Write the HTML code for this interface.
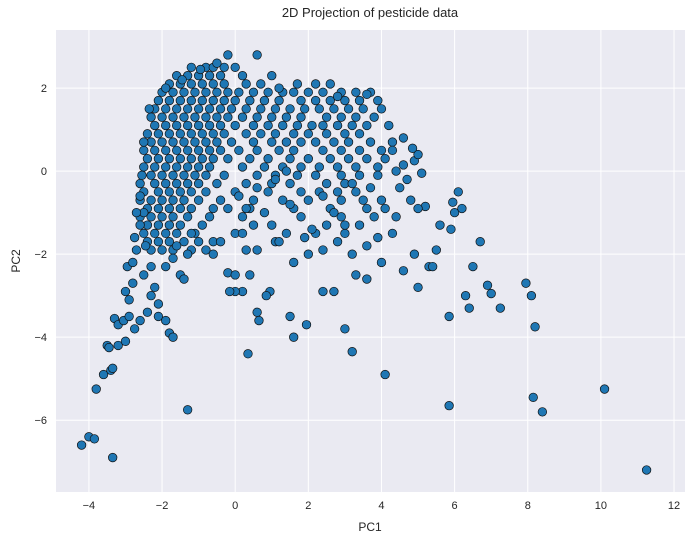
<!DOCTYPE html>
<html><head><meta charset="utf-8"><style>
body{margin:0;background:#fff;}
svg{display:block;font-family:"Liberation Sans",sans-serif;}
</style></head><body>
<svg id="chart" width="692" height="545">
<rect x="56" y="30" width="629" height="462" fill="#eaeaf2"/>
<g id="grid"></g>
<g id="ticks"></g>
<g id="pts"></g>
<text x="370" y="17" text-anchor="middle" font-size="13" fill="#262626">2D Projection of pesticide data</text>
<text x="370" y="531" text-anchor="middle" font-size="12" fill="#262626">PC1</text>
<text x="20" y="261" text-anchor="middle" font-size="12" fill="#262626" transform="rotate(-90 20 261)">PC2</text>
</svg>
<script>
const xTicks=[-4,-2,0,2,4,6,8,10,12];
const yTicks=[-6,-4,-2,0,2];
const xDomain=[-4.9,12.3];
const yDomain=[-7.73,3.4];
const rows=[
[2.8,[-0.2,0.6]],
[2.5,[-1.2,-0.8,-0.6,-0.3,0.0]],
[2.3,[-1.6,-1.3,-1.0,-0.7,-0.4,0.2,1.0]],
[2.1,[-1.8,-1.5,-1.2,-0.9,-0.6,-0.3,0.3,0.7,1.7,2.2,2.6]],
[1.9,[-2.0,-1.7,-1.4,-1.1,-0.8,-0.5,-0.2,0.1,0.5,0.9,1.3,1.6,2.0,2.4,2.9,3.3,3.7]],
[1.7,[-2.1,-1.8,-1.5,-1.2,-0.9,-0.6,-0.3,0.0,0.4,0.8,1.2,1.8,2.2,2.6,3.0,3.4,3.9]],
[1.5,[-2.2,-1.9,-1.6,-1.3,-1.0,-0.7,-0.4,-0.1,0.3,0.7,1.1,1.5,1.9,2.3,2.7,3.1,3.5,4.0]],
[1.3,[-2.3,-2.0,-1.7,-1.4,-1.1,-0.8,-0.5,-0.2,0.2,0.6,1.0,1.4,1.8,2.5,2.9,3.3,3.8]],
[1.1,[-2.2,-1.9,-1.6,-1.3,-1.0,-0.7,-0.4,0.0,0.5,0.9,1.3,1.7,2.1,2.4,2.8,3.2,3.6,4.2]],
[0.9,[-2.4,-2.1,-1.8,-1.5,-1.2,-0.9,-0.6,-0.3,0.3,0.7,1.1,1.6,2.0,2.5,3.0,3.4]],
[0.7,[-2.3,-2.0,-1.7,-1.4,-1.1,-0.8,-0.5,-0.1,0.5,1.0,1.4,1.8,2.2,2.7,3.1,3.7,4.3]],
[0.5,[-2.5,-2.2,-1.9,-1.6,-1.3,-1.0,-0.7,-0.4,0.1,0.6,1.2,1.6,2.4,2.9,3.4,4.0]],
[0.3,[-2.4,-2.1,-1.8,-1.5,-1.2,-0.9,-0.6,-0.2,0.4,0.9,1.5,2.0,2.6,3.1,3.6,4.1]],
[0.1,[-2.5,-2.2,-1.9,-1.6,-1.3,-1.0,-0.7,0.2,0.8,1.3,1.8,2.3,2.8,3.3,3.9]],
[-0.1,[-2.3,-2.0,-1.7,-1.4,-1.1,-0.8,-0.3,0.6,1.1,1.7,2.2,2.9,3.4]],
[-0.3,[-2.6,-2.2,-1.9,-1.6,-1.3,-1.0,-0.5,0.3,1.0,1.5,2.5,3.0]],
[-0.5,[-2.5,-2.1,-1.8,-1.5,-1.2,-0.8,0.0,0.9,1.8,2.3,3.3]],
[-0.7,[-2.6,-2.3,-2.0,-1.7,-1.4,-1.0,-0.4,0.5,1.3,2.0,2.9,4.0]],
[-0.9,[-2.4,-2.1,-1.8,-1.5,-1.2,-0.6,0.4,1.6,2.6,3.6]],
[-1.1,[-2.6,-2.3,-2.0,-1.7,-1.3,-0.7,0.2,1.8,2.9,4.4]],
[-1.3,[-2.4,-2.1,-1.8,-1.5,-0.9,0.5,2.5,3.4]],
[-1.5,[-2.5,-2.2,-1.9,-1.6,-1.1,0.0,1.4,2.2,3.0]],
[-1.7,[-2.4,-2.1,-1.8,-1.4,-0.6,1.1,2.8]],
[-1.9,[-2.3,-2.0,-1.7,-1.2,0.3,2.4]]
];
const extraPoints=[
[-4.2,-6.6],[-4.0,-6.4],[-3.85,-6.45],[-3.35,-6.9],[-3.8,-5.25],[-3.6,-4.9],[-3.4,-4.8],[-3.35,-4.75],[-3.5,-4.2],[-3.45,-4.25],[-3.2,-4.2],[-3.0,-4.1],[-3.3,-3.55],[-3.2,-3.7],[-3.05,-3.6],[-2.9,-3.5],[-2.75,-3.8],[-2.6,-3.6],[-3.0,-2.9],[-2.9,-3.1],[-2.8,-2.7],[-2.95,-2.3],[-2.8,-2.2],[-2.7,-1.9],[-2.75,-1.6],[-2.6,-1.3],[-2.5,-1.0],[-2.7,-1.0],[-2.6,-0.6],[-2.45,-1.8],[-2.3,-2.3],[-2.5,-2.5],[-2.3,-3.0],[-2.2,-2.8],[-2.1,-3.2],[-2.4,-3.4],[-2.1,-3.5],[-1.9,-3.6],[-1.8,-3.9],[-1.7,-4.0],[-1.3,-5.75],[-1.9,-2.3],[-1.7,-2.1],[-1.5,-2.5],[-1.4,-2.6],[-1.6,-1.8],[-1.3,-2.0],[-1.2,-1.5],[-1.0,-1.7],[-0.8,-1.9],[-0.6,-2.0],[-0.4,-1.7],
[2.1,-1.4],[2.4,-2.9],[2.7,-2.9],[3.0,-3.8],[3.2,-4.35],[4.1,-4.9],[5.85,-5.65],[8.15,-5.45],[8.4,-5.8],[10.1,-5.25],[11.25,-7.2],[7.95,-2.7],[8.1,-3.0],[8.2,-3.75],[6.3,-3.0],[6.4,-3.3],[6.5,-2.3],[6.9,-2.75],[7.0,-2.95],[7.25,-3.3],[6.7,-1.7],[5.85,-3.5],[5.3,-2.3],[5.4,-2.3],[5.0,-2.8],[4.6,-2.4],[4.9,-2.0],[5.5,-1.9],[5.6,-1.3],[5.9,-1.4],[6.0,-1.0],[6.1,-0.5],[6.2,-0.9],[5.95,-0.75],[5.2,-0.85],[5.0,-0.9],[4.8,-0.7],[4.5,-0.4],[4.7,-0.2],[4.4,0.0],[4.6,0.15],[4.9,0.25],[5.1,-0.05],[5.0,0.4],[4.85,0.55],[3.6,-2.6],[3.3,-2.5],[3.2,-2.0],[3.6,-1.8],[3.9,-1.6],[4.0,-2.2],[3.8,-1.1],[4.3,-1.5],[4.1,-0.9],[3.0,-1.3],[2.7,-1.0],[2.4,-0.6],[2.8,-0.5],[3.2,-0.3],[3.5,-0.7],[3.7,-0.4],[3.9,-0.1],[1.9,-1.6],[1.2,-1.7],[1.0,-1.3],[0.8,-1.0],[1.5,-0.8],[1.6,-2.2],[2.0,-2.0],[1.5,-3.5],[1.6,-4.0],[1.95,-3.7],[0.95,-2.9],[0.85,-3.0],[0.6,-3.4],[0.65,-3.6],[0.35,-4.4],[0.2,-2.9],[0.0,-2.9],[-0.15,-2.9],[-0.2,-2.45],[0.0,-2.5],[0.4,-2.5],[0.6,-1.9],[0.2,-1.5],[0.3,-0.9],[-0.2,-0.9],[0.1,-0.6],[0.6,-0.4],[1.1,-0.2],[1.4,0.0],
[-1.9,2.0],[-1.45,2.2],[-0.95,2.45],[-0.5,2.6],[1.2,2.0],[2.8,1.8],[3.6,1.85],[4.6,0.8],[4.3,0.5],[-2.35,1.5],[-2.5,0.7],[-2.55,-0.1]
];
const X=v=>56+(v-xDomain[0])/(xDomain[1]-xDomain[0])*629;
const Y=v=>30+(yDomain[1]-v)/(yDomain[1]-yDomain[0])*462;
const NS='http://www.w3.org/2000/svg';
const grid=document.getElementById('grid'),ticks=document.getElementById('ticks'),pts=document.getElementById('pts');
function mk(tag,at,parent){const e=document.createElementNS(NS,tag);for(const k in at)e.setAttribute(k,at[k]);parent.appendChild(e);return e;}
xTicks.forEach(t=>{
 const l=mk('line',{x1:X(t),x2:X(t),y1:30,y2:492,stroke:'#fff','stroke-width':1},grid);
 
 
 const tx=mk('text',{x:X(t),y:509,'text-anchor':'middle','font-size':11,fill:'#262626'},ticks);
 tx.textContent=(t<0?'\u2212'+(-t):t);
 
 
});
yTicks.forEach(t=>{
 const l=mk('line',{x1:56,x2:685,y1:Y(t),y2:Y(t),stroke:'#fff','stroke-width':1},grid);
 
 
 const tx=mk('text',{x:47,y:Y(t)+4,'text-anchor':'end','font-size':11,fill:'#262626'},ticks);
 tx.textContent=(t<0?'\u2212'+(-t):t);
 
 
});
const all=[];
rows.forEach(r=>r[1].forEach(x=>all.push([x,r[0]])));
extraPoints.forEach(p=>all.push(p));
all.forEach(p=>{
 const c=mk('circle',{cx:X(p[0]),cy:Y(p[1]),r:4.3,fill:'#1f77b4',stroke:'#111','stroke-width':0.7},pts);
 
 
});
</script>
</body></html>
